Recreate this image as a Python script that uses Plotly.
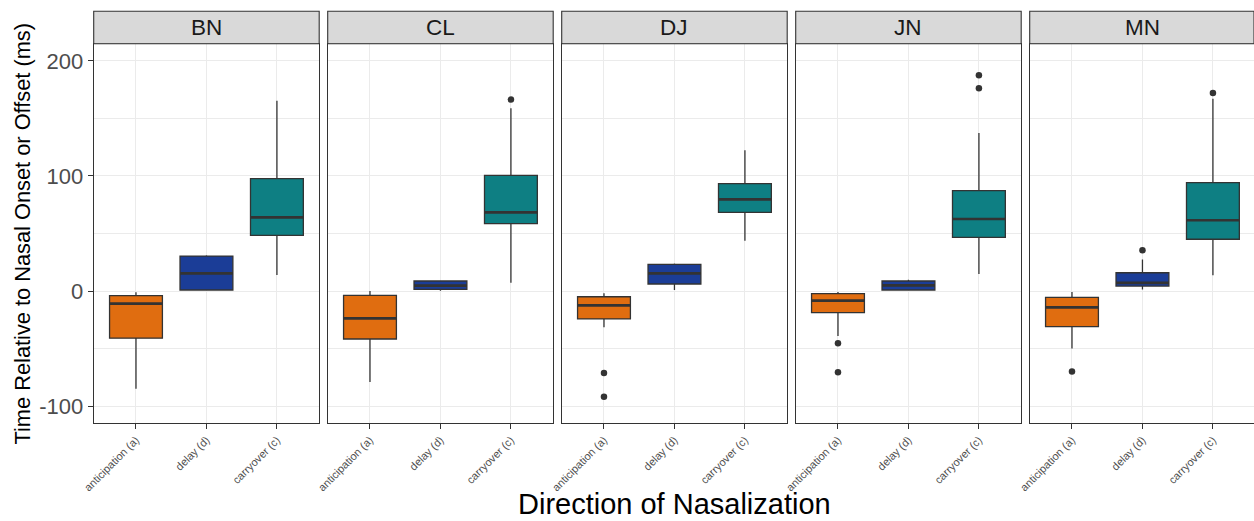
import plotly.graph_objects as go

# ---------------- data ----------------
speakers = ["BN", "CL", "DJ", "JN", "MN"]
categories = ["anticipation (a)", "delay (d)", "carryover (c)"]

antic_lower = [-85, -79, -31.6, -39.1, -49.9]
antic_q1 = [-41, -41.7, -24.3, -18.8, -31]
antic_med = [-11, -23.8, -12.5, -8.4, -14.2]
antic_q3 = [-4, -3.8, -5, -2.3, -5.5]
antic_upper = [-1, 0, -2, -0.9, -0.9]

delay_lower = [0.9, 0.3, 0.9, 0.9, 1.4]
delay_q1 = [0.9, 1.4, 6.1, 0.9, 4.3]
delay_med = [15.4, 4.6, 15.4, 4.9, 7.0]
delay_q3 = [30.4, 8.7, 23.2, 8.7, 15.9]
delay_upper = [31, 8.7, 24, 9.9, 27.5]

carry_lower = [13.9, 7.2, 43.8, 14.8, 13.6]
carry_q1 = [48.4, 58.5, 68.4, 46.7, 45.0]
carry_med = [64.0, 68.4, 79.7, 62.6, 61.5]
carry_q3 = [97.7, 100.6, 93.3, 87.2, 94.2]
carry_upper = [165.5, 158.8, 122.3, 137.4, 167.2]

out_speaker = ["CL", "DJ", "DJ", "JN", "JN", "JN", "JN", "MN", "MN", "MN"]
out_category = ["carryover (c)", "anticipation (a)", "anticipation (a)",
                "anticipation (a)", "anticipation (a)", "carryover (c)",
                "carryover (c)", "anticipation (a)", "delay (d)", "carryover (c)"]
out_value = [166.4, -71.3, -91.9, -45.5, -70.7, 187.5, 176.2, -69.9, 35.4, 172.2]

y_ticks = [-100, 0, 100, 200]

# ---------------- styling / layout ----------------
W, H = 1254, 521
colors = {"anticipation (a)": "#E06D10", "delay (d)": "#1B3D97", "carryover (c)": "#0E7F83"}
stats = {
    "anticipation (a)": (antic_lower, antic_q1, antic_med, antic_q3, antic_upper),
    "delay (d)": (delay_lower, delay_q1, delay_med, delay_q3, delay_upper),
    "carryover (c)": (carry_lower, carry_q1, carry_med, carry_q3, carry_upper),
}
FONT = "Liberation Sans, Arial, Helvetica, sans-serif"
panel_left = [93.7, 327.7, 561.7, 795.7, 1029.7]
panel_w = 225.5
top_px, bot_px, strip_top = 43.7, 423.3, 11.3
x_range = [-0.6, 2.6]
px_per_unit = panel_w / (x_range[1] - x_range[0])

fig = go.Figure()
layout = {}
shapes = []
annotations = []

for i, sp in enumerate(speakers):
    xa = "x" if i == 0 else f"x{i+1}"
    ya = "y" if i == 0 else f"y{i+1}"
    for cat in categories:
        lo, q1, md, q3, up = stats[cat]
        fig.add_trace(go.Box(
            x=[cat], q1=[q1[i]], median=[md[i]], q3=[q3[i]],
            lowerfence=[lo[i]], upperfence=[up[i]],
            fillcolor=colors[cat], line=dict(color="#333333", width=1.3),
            width=0.75, whiskerwidth=0, boxpoints=False,
            xaxis=xa, yaxis=ya, showlegend=False, hoverinfo="skip"))
        # thicker median line overlay
        fig.add_trace(go.Box(
            x=[cat], q1=[md[i]], median=[md[i]], q3=[md[i]],
            lowerfence=[md[i]], upperfence=[md[i]],
            fillcolor="rgba(0,0,0,0)", line=dict(color="#333333", width=2.7),
            width=0.75, whiskerwidth=0, boxpoints=False,
            xaxis=xa, yaxis=ya, showlegend=False, hoverinfo="skip"))
    ox = [c for s, c in zip(out_speaker, out_category) if s == sp]
    oy = [v for s, v in zip(out_speaker, out_value) if s == sp]
    if ox:
        fig.add_trace(go.Scatter(
            x=ox, y=oy, mode="markers",
            marker=dict(color="#333333", size=6.5, line=dict(width=0)),
            xaxis=xa, yaxis=ya, showlegend=False, hoverinfo="skip"))

    x0 = panel_left[i]
    x1 = min(x0 + panel_w, W)
    rng = [x_range[0], x_range[0] + (x1 - x0) / px_per_unit]
    xkey = "xaxis" if i == 0 else f"xaxis{i+1}"
    ykey = "yaxis" if i == 0 else f"yaxis{i+1}"
    layout[xkey] = dict(
        domain=[x0 / W, x1 / W], anchor=ya, type="category",
        categoryorder="array", categoryarray=categories, range=rng,
        showgrid=True, gridcolor="#EBEBEB", gridwidth=1.1,
        showline=True, mirror=True, linecolor="#333333", linewidth=1.1,
        ticks="outside", ticklen=5, tickcolor="#333333", tickwidth=1,
        tickangle=-45, tickfont=dict(family=FONT, size=11, color="#4D4D4D"),
        zeroline=False, automargin=False, fixedrange=True)
    layout[ykey] = dict(
        domain=[(H - bot_px) / H, (H - top_px) / H], anchor=xa,
        range=[-115, 215], tickvals=y_ticks, ticktext=[str(t) for t in y_ticks],
        showgrid=True, gridcolor="#EBEBEB", gridwidth=1.1,
        minor=dict(dtick=50, tick0=0, showgrid=True, gridcolor="#EBEBEB", gridwidth=0.55),
        showline=True, mirror=True, linecolor="#333333", linewidth=1.1,
        ticks="outside" if i == 0 else "", ticklen=5, tickcolor="#333333", tickwidth=1,
        showticklabels=(i == 0),
        tickfont=dict(family=FONT, size=22, color="#4D4D4D"),
        zeroline=False, automargin=False, fixedrange=True)
    if i > 0:
        layout[ykey]["matches"] = "y"

    shapes.append(dict(type="rect", xref="paper", yref="paper",
                       x0=x0 / W, x1=x1 / W,
                       y0=(H - top_px) / H, y1=(H - strip_top) / H,
                       fillcolor="#D9D9D9", line=dict(color="#333333", width=1.1),
                       layer="above"))
    annotations.append(dict(text=sp, xref="paper", yref="paper",
                            x=(x0 + panel_w / 2) / W, y=(H - (top_px + strip_top) / 2) / H,
                            xanchor="center", yanchor="middle", showarrow=False,
                            font=dict(family=FONT, size=22.5, color="#1A1A1A")))

annotations.append(dict(text="Direction of Nasalization",
                        xref="paper", yref="paper", x=674 / W, y=0,
                        xanchor="center", yanchor="bottom", showarrow=False,
                        borderpad=0,
                        font=dict(family=FONT, size=29, color="#000000")))
annotations.append(dict(text="Time Relative to Nasal Onset or Offset (ms)",
                        xref="paper", yref="paper", x=22 / W, y=(H - (top_px + bot_px) / 2) / H,
                        textangle=-90, xanchor="center", yanchor="middle", showarrow=False,
                        font=dict(family=FONT, size=21.8, color="#000000")))

fig.update_layout(
    width=W, height=H, margin=dict(l=0, r=0, t=0, b=0),
    paper_bgcolor="white", plot_bgcolor="white",
    boxmode="overlay", showlegend=False,
    shapes=shapes, annotations=annotations, font=dict(family=FONT),
    **layout)

fig.write_html("out.html", config={"displayModeBar": False})
